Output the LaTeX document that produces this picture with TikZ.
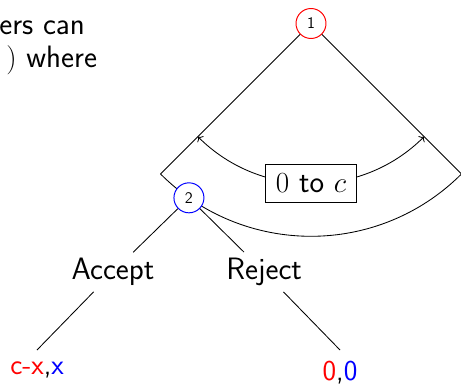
\documentclass[tikz,border=0pt]{standalone}
\usetikzlibrary{arrows.meta,positioning,calc}

\begin{document}
\begin{tikzpicture}[
  >=To,
  line width=0.6pt,
  font=\sffamily\fontsize{22}{26}\selectfont,
  player/.style={circle, draw, fill=white, line width=0.7pt, minimum size=0.75cm, inner sep=0pt, font=\sffamily\fontsize{11.5}{13}\selectfont},
  move/.style={inner sep=4pt},
  payoff/.style={inner sep=0pt, font=\sffamily\fontsize{20.5}{24}\selectfont},
  rangebox/.style={rectangle, draw, fill=white, inner xsep=7.5pt, inner ysep=6.5pt},
  edge/.style={draw=black, line width=0.6pt}
]
  \useasboundingbox (-7.775,0.5875) rectangle (3.75,-9.0625);

  % text left over from the slide
  \node[anchor=base west, inner sep=0pt] (txta) at (-7.8,-0.2875) {ers can};
  \node[anchor=base west, inner sep=0pt] (txtb) at (-7.625,-1.1125) {$)$ where};

  % first mover and the continuum of offers
  \node[player, draw=red] (n1) at (0,0) {1};
  \coordinate (lft) at (-135:5.32);
  \coordinate (rgt) at (-45:5.32);
  \coordinate (al) at (-135:4);
  \draw[edge] (n1) -- (lft);
  \draw[edge] (n1) -- (rgt);
  \draw[edge] (lft) arc[start angle=-135, end angle=-45, radius=5.32];
  \draw[edge, <->] (al) arc[start angle=-135, end angle=-45, radius=4];
  \node[rangebox] (rng) at (0,-4) {$0$ to $c$};

  % second mover
  \node[player, draw=blue] (n2) at (-125:5.32) {2};
  \node[move] (acc) at ($(n2)+(-1.9,-1.855)$) {Accept};
  \node[move] (rej) at ($(n2)+(1.88,-1.855)$) {Reject};
  \coordinate (lf1) at (-6.85,-8.1625);
  \coordinate (lf2) at (0.725,-8.1625);
  \draw[edge] (n2) -- (acc);
  \draw[edge] (n2) -- (rej);
  \draw[edge] (acc) -- (lf1);
  \draw[edge] (rej) -- (lf2);

  % payoffs
  \node[payoff, below=0.28cm of lf1] (pay1) {{\color{red}c-x},{\color{blue}x}};
  \node[payoff, below=0.28cm of lf2] (pay2) {{\color{red}0},{\color{blue}0}};
\end{tikzpicture}
\end{document}
